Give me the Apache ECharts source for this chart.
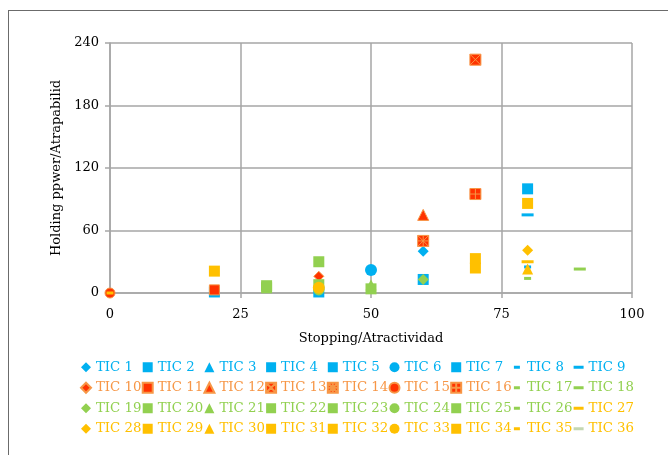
<!DOCTYPE html>
<html>
<head>
<meta charset="utf-8">
<script src="https://cdn.jsdelivr.net/npm/echarts@6/dist/echarts.min.js"></script>
<style>
html,body{margin:0;padding:0;background:#fff;}
#frame{position:absolute;left:8px;top:10px;width:700px;height:500px;border:1.5px solid #6b6b6b;box-sizing:border-box;}
#chart{position:absolute;left:0;top:0;width:668px;height:455px;}
</style>
</head>
<body>
<div id="frame"></div>
<div id="chart"></div>
<script>
// ---- data ----
const xTicks = [0, 25, 50, 75, 100];
const yTicks = [0, 60, 120, 180, 240];
const names = [];
for (let i = 1; i <= 36; i++) names.push('TIC ' + i);

const tic1  = [[60, 40]];
const tic2  = [[20, 1]];
const tic3  = [];
const tic4  = [[60, 13]];
const tic5  = [[40, 1]];
const tic6  = [[50, 22]];
const tic7  = [[80, 100]];
const tic8  = [[80, 25]];
const tic9  = [[80, 75]];
const tic10 = [[40, 16]];
const tic11 = [[20, 3]];
const tic12 = [[60, 75]];
const tic13 = [[70, 224]];
const tic14 = [[60, 50]];
const tic15 = [[0, 0]];
const tic16 = [[70, 95]];
const tic17 = [[80, 14]];
const tic18 = [[90, 23]];
const tic19 = [[60, 13]];
const tic20 = [[30, 5]];
const tic21 = [[50, 8]];
const tic22 = [[40, 30]];
const tic23 = [[40, 8], [30, 7]];
const tic24 = [[40, 3]];
const tic25 = [[50, 4]];
const tic26 = [];
const tic27 = [[80, 30]];
const tic28 = [[80, 41]];
const tic29 = [[20, 21]];
const tic30 = [[80, 23]];
const tic31 = [[70, 24]];
const tic32 = [[70, 33]];
const tic33 = [[40, 5]];
const tic34 = [[80, 86]];
const tic35 = [[0, 0]];
const tic36 = [];
const allData = [tic1,tic2,tic3,tic4,tic5,tic6,tic7,tic8,tic9,tic10,tic11,tic12,tic13,tic14,tic15,tic16,tic17,tic18,
  tic19,tic20,tic21,tic22,tic23,tic24,tic25,tic26,tic27,tic28,tic29,tic30,tic31,tic32,tic33,tic34,tic35,tic36];

// ---- styles ----
const BLUE = '#00B0F0', RED = '#FF3300', ORANGE = '#F79646', GREEN = '#92D050', YELLOW = '#FFC000', GRAYGREEN = '#C4D7B2';
const SQX = 'path://M0,0H10V10H0Z M0,0L10,10 M10,0L0,10';
const SQAST = 'path://M0,0H10V10H0Z M0,0L10,10 M10,0L0,10 M5,0V10 M0,5H10';
const SQPLUS = 'path://M0,0H10V10H0Z M5,0V10 M0,5H10';
const DASH_L_ICON = 'path://M0,0h.01v.01h-.01z M0,3.5h10v3h-10z M9.99,9.99h.01v.01h-.01z';
const DASH_S_ICON = 'path://M0,0h.01v.01h-.01z M2,3.5h6v3h-6z M9.99,9.99h.01v.01h-.01z';

function st(sym, size, fill, border, text, icon) { return {sym, size, fill, border, text, icon}; }
const styles = [
  st('diamond',11,BLUE,null,BLUE), st('rect',11,BLUE,null,BLUE), st('triangle',11,BLUE,null,BLUE),
  st('rect',11,BLUE,null,BLUE), st('rect',11,BLUE,null,BLUE), st('circle',12,BLUE,null,BLUE),
  st('rect',11,BLUE,null,BLUE), st('rect',[7,3],BLUE,null,BLUE,DASH_S_ICON), st('rect',[12,3],BLUE,null,BLUE,DASH_L_ICON),
  st('diamond',10,RED,ORANGE,ORANGE), st('rect',10,RED,ORANGE,ORANGE), st('triangle',11,RED,ORANGE,ORANGE),
  st(SQX,11,RED,ORANGE,ORANGE), st(SQAST,11,RED,ORANGE,ORANGE), st('circle',10,RED,ORANGE,ORANGE),
  st(SQPLUS,11,RED,ORANGE,ORANGE), st('rect',[7,3],GREEN,null,GREEN,DASH_S_ICON), st('rect',[12,3],GREEN,null,GREEN,DASH_L_ICON),
  st('diamond',11,GREEN,null,GREEN), st('rect',11,GREEN,null,GREEN), st('triangle',11,GREEN,null,GREEN),
  st('rect',11,GREEN,null,GREEN), st('rect',11,GREEN,null,GREEN), st('circle',11,GREEN,null,GREEN),
  st('rect',11,GREEN,null,GREEN), st('rect',[7,3],GREEN,null,GREEN,DASH_S_ICON), st('rect',[12,3],YELLOW,null,YELLOW,DASH_L_ICON),
  st('diamond',11,YELLOW,null,YELLOW), st('rect',11,YELLOW,null,YELLOW), st('triangle',11,YELLOW,null,YELLOW),
  st('rect',11,YELLOW,null,YELLOW), st('rect',11,YELLOW,null,YELLOW), st('circle',12,YELLOW,null,YELLOW),
  st('rect',11,YELLOW,null,YELLOW), st('rect',[7,3],YELLOW,null,YELLOW,DASH_S_ICON), st('rect',[12,3],GRAYGREEN,null,YELLOW,DASH_L_ICON)
];

const FONT = 'DejaVu Serif';
const series = names.map((n, i) => {
  const s = styles[i];
  return {
    name: n, type: 'scatter', data: allData[i],
    symbol: s.sym, symbolSize: s.size,
    itemStyle: { color: s.fill, borderColor: s.border || s.fill, borderWidth: s.border ? 1 : 0, opacity: 1 },
    emphasis: { disabled: true }, z: 2 + i * 0.01
  };
});

// legend as 9 columns x 4 rows
const colStep = 61.7;
const legends = [];
for (let c = 0; c < 9; c++) {
  legends.push({
    left: 80 + c * colStep, top: 357, orient: 'vertical',
    itemWidth: 10, itemHeight: 10, itemGap: 0, padding: 0,
    selectedMode: false,
    textStyle: { fontFamily: FONT, fontSize: 13.3, lineHeight: 20.5 },
    data: [0, 1, 2, 3].map(r => {
      const idx = r * 9 + c;
      const s = styles[idx];
      const d = { name: names[idx], textStyle: { color: s.text } };
      if (s.icon) { d.icon = s.icon; d.itemStyle = { borderWidth: 0 }; }
      return d;
    })
  });
}

const chart = echarts.init(document.getElementById('chart'), null, { renderer: 'canvas' });
chart.setOption({
  animation: false,
  backgroundColor: 'transparent',
  grid: { left: 110, right: 36, top: 43, bottom: 162, containLabel: false },
  legend: legends,
  xAxis: {
    type: 'value', min: xTicks[0], max: xTicks[xTicks.length - 1], interval: 25,
    name: 'Stopping/Atractividad', nameLocation: 'middle', nameGap: 39,
    nameTextStyle: { fontFamily: FONT, fontSize: 13, color: '#000' },
    axisLine: { show: true, lineStyle: { color: '#A6A6A6', width: 1.5 } },
    axisTick: { show: true, length: 5, lineStyle: { color: '#A6A6A6', width: 1.5 } },
    axisLabel: { fontFamily: FONT, fontSize: 13, color: '#000', margin: 15 },
    splitLine: { show: true, lineStyle: { color: '#A6A6A6', width: 1.5 } }
  },
  yAxis: {
    type: 'value', min: yTicks[0], max: yTicks[yTicks.length - 1], interval: 60,
    name: 'Holding ppwer/Atrapabilid', nameLocation: 'middle', nameGap: 47,
    nameTextStyle: { fontFamily: FONT, fontSize: 13, color: '#000' },
    axisLine: { show: true, lineStyle: { color: '#A6A6A6', width: 1.5 } },
    axisTick: { show: true, length: 5, lineStyle: { color: '#A6A6A6', width: 1.5 } },
    axisLabel: { fontFamily: FONT, fontSize: 13, color: '#000', margin: 11 },
    splitLine: { show: true, lineStyle: { color: '#A6A6A6', width: 1.5 } }
  },
  series: series
});
</script>
</body>
</html>
